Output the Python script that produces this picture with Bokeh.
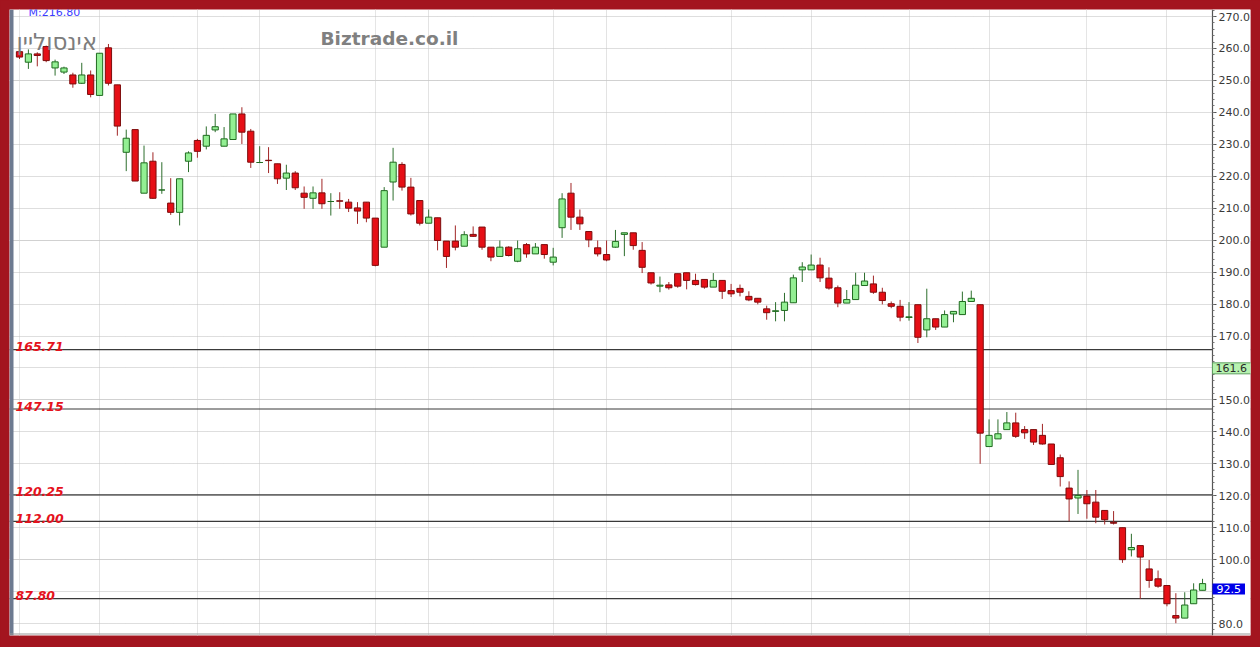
from bokeh.plotting import figure
from bokeh.models import (ColumnDataSource, LinearAxis, FixedTicker, PrintfTickFormatter,
                          Span, Label, Grid, BoxAnnotation)
from bokeh.embed import file_html
from bokeh.resources import INLINE

# ---------------- data ----------------
opens = [259.0, 255.7, 258.3, 260.6, 253.9, 252.6, 251.7, 249.1, 251.7, 245.3,
         260.2, 248.6, 227.5, 234.6, 214.7, 224.7, 215.7, 211.6, 208.7, 224.7,
         231.2, 229.4, 234.5, 229.4, 231.5, 239.5, 234.1, 224.3, 225.0, 223.9,
         219.4, 221.0, 214.7, 213.1, 214.8, 212.1, 212.3, 211.9, 210.1, 211.9,
         206.9, 197.8, 218.2, 223.7, 216.6, 212.4, 205.3, 207.0, 199.7, 199.7,
         198.1, 201.8, 204.1, 197.8, 194.9, 197.8, 193.4, 198.6, 195.7, 198.6,
         193.1, 203.9, 214.7, 207.2, 202.7, 197.6, 195.5, 197.8, 201.8, 202.3,
         196.8, 189.8, 185.6, 186.0, 189.5, 189.8, 187.4, 187.7, 185.3, 187.4,
         184.2, 184.9, 182.4, 181.8, 178.5, 177.7, 178.0, 180.4, 190.7, 190.7,
         192.2, 188.1, 185.1, 180.3, 181.4, 185.8, 186.3, 183.7, 180.1, 179.3,
         175.8, 179.8, 171.9, 175.4, 172.8, 176.9, 176.7, 180.8, 179.8, 135.4,
         137.8, 140.7, 142.8, 140.7, 140.7, 138.9, 136.2, 131.9, 122.4, 119.3,
         119.9, 118.0, 115.4, 111.7, 110.0, 103.1, 104.4, 97.1, 94.0, 91.9,
         82.5, 81.7, 86.2, 90.4]
highs = [260.4, 259.7, 258.8, 260.9, 256.5, 254.3, 252.4, 255.5, 253.1, 258.5,
         261.4, 248.6, 234.6, 234.6, 229.6, 227.5, 224.4, 219.4, 219.2, 227.8,
         231.7, 235.6, 239.5, 235.4, 239.5, 241.6, 234.8, 229.4, 229.1, 223.9,
         223.6, 221.6, 216.8, 216.8, 219.2, 214.7, 215.0, 212.9, 211.9, 211.9,
         206.9, 216.6, 228.9, 224.4, 219.5, 212.4, 209.6, 207.0, 199.7, 204.6,
         202.8, 204.3, 204.1, 197.8, 199.9, 198.1, 199.9, 199.1, 199.1, 198.6,
         197.6, 214.7, 217.9, 209.6, 202.7, 199.9, 199.9, 203.2, 202.3, 202.3,
         199.4, 189.8, 188.6, 186.9, 189.5, 189.8, 189.5, 187.7, 189.7, 187.4,
         186.3, 186.1, 184.0, 181.8, 179.5, 180.6, 183.5, 189.2, 193.1, 195.5,
         194.5, 191.5, 185.8, 184.4, 189.8, 189.8, 188.9, 185.1, 180.8, 181.3,
         180.6, 179.8, 184.8, 175.4, 178.0, 177.7, 183.9, 184.2, 179.8, 143.9,
         143.9, 146.2, 146.0, 141.8, 140.7, 142.5, 136.2, 132.9, 124.5, 128.1,
         121.8, 121.8, 115.4, 115.2, 110.0, 108.1, 104.4, 99.9, 96.6, 91.9,
         89.5, 89.8, 92.6, 94.0]
lows = [256.7, 253.6, 254.4, 255.7, 251.5, 252.0, 247.7, 248.9, 244.7, 245.3,
        248.4, 232.7, 221.6, 218.5, 214.7, 212.9, 214.5, 207.9, 204.6, 221.3,
        225.8, 228.4, 233.8, 229.4, 231.5, 230.1, 222.6, 224.1, 221.0, 217.6,
        215.7, 215.7, 209.8, 209.8, 209.8, 207.7, 209.8, 208.8, 205.1, 205.6,
        191.8, 197.8, 212.4, 215.5, 207.7, 204.6, 205.3, 196.8, 191.3, 196.8,
        198.1, 201.0, 197.0, 193.4, 194.9, 194.9, 193.1, 194.5, 195.7, 194.2,
        192.1, 200.7, 203.2, 203.2, 197.8, 194.9, 193.4, 197.6, 195.0, 197.0,
        189.7, 186.1, 183.7, 184.5, 185.1, 184.6, 185.8, 184.8, 185.3, 181.6,
        182.2, 182.4, 180.9, 179.9, 175.1, 174.6, 174.6, 180.4, 186.9, 190.7,
        186.9, 184.5, 179.0, 180.3, 181.4, 185.8, 183.2, 179.9, 178.7, 174.6,
        174.8, 167.8, 169.6, 171.9, 172.8, 174.3, 176.7, 180.8, 130.0, 135.4,
        137.8, 140.7, 138.1, 137.8, 135.9, 136.0, 129.8, 122.9, 112.0, 114.3,
        112.8, 111.4, 111.0, 111.0, 99.0, 101.0, 87.7, 91.2, 91.2, 85.4,
        80.1, 81.7, 86.2, 90.4]
closes = [257.3, 258.3, 257.8, 256.2, 255.8, 253.9, 248.9, 251.7, 245.6, 258.5,
          249.1, 235.7, 231.9, 218.5, 224.2, 213.1, 215.7, 208.7, 219.2, 227.3,
          227.8, 232.8, 235.5, 231.7, 239.5, 233.8, 224.4, 224.3, 224.9, 219.2,
          221.0, 216.4, 213.4, 214.8, 211.4, 212.1, 212.2, 210.0, 209.1, 206.9,
          192.1, 215.5, 224.4, 216.6, 208.2, 205.3, 207.2, 199.9, 194.9, 197.8,
          201.7, 201.2, 197.8, 194.7, 197.8, 195.2, 197.3, 195.7, 197.8, 195.5,
          194.7, 212.9, 207.2, 205.1, 200.1, 195.7, 193.8, 199.6, 202.3, 198.3,
          191.5, 186.6, 185.9, 185.1, 185.6, 187.4, 186.1, 185.3, 187.4, 184.0,
          183.2, 183.7, 181.3, 180.6, 177.3, 177.9, 180.6, 188.2, 191.6, 192.2,
          188.2, 185.0, 180.3, 181.4, 185.9, 187.2, 183.7, 181.1, 179.3, 175.9,
          176.0, 169.6, 175.4, 172.8, 176.7, 177.7, 180.8, 181.8, 139.6, 138.9,
          139.4, 142.8, 138.6, 139.7, 136.8, 136.2, 129.8, 126.0, 119.0, 120.1,
          117.5, 113.3, 112.5, 111.4, 100.0, 103.8, 100.8, 93.5, 91.7, 86.2,
          81.7, 85.8, 90.5, 92.5]

month_starts = [9, 27, 46, 66, 89, 109, 129]
levels = [165.71, 147.15, 120.25, 112.00, 87.80]
level_labels = ["165.71", "147.15", "120.25", "112.00", "87.80"]
y_ticks = list(range(80, 271, 10))
y_minor = list(range(76, 274, 2))
hidden_tick_labels = {90: ""}   # covered by the last-price tag in the original
last_price = 92.5
last_price_text = "92.5"
avg_value = 161.6
avg_text = "161.6"
header_text = "M:216.80"
title_text = "אינסוליין"
site_text = "Biztrade.co.il"

# ---------------- layout helpers (page pixels -> data) ----------------
FRAME_L, FRAME_T, FRAME_R, FRAME_B = 9, 9, 1250, 635
AXIS_PX = 1212
STEP = 8.895      # px per bar
X0_PX = 19        # page x of first bar
PPU = 3.195       # px per price unit
Y_REF_PX, Y_REF_V = 16, 270
FRAME_RED = "#a3151f"


def px2x(px):
    return (px - X0_PX) / STEP


def px2y(py):
    return Y_REF_V - (py - Y_REF_PX) / PPU


x_start, x_end = px2x(FRAME_L), px2x(FRAME_R)
y_top, y_bot = px2y(FRAME_T), px2y(FRAME_B)
x_axis = px2x(AXIS_PX)

idx = list(range(len(opens)))
up = [c >= o for o, c in zip(opens, closes)]
src = ColumnDataSource(dict(
    x=idx, high=highs, low=lows,
    top=[max(o, c) for o, c in zip(opens, closes)],
    bottom=[min(o, c) for o, c in zip(opens, closes)],
    fill=["#93ef93" if u else "#e60f16" for u in up],
    edge=["#1f6b1f" if u else "#7d0c0c" for u in up],
    wick=["#2d6e2d" if u else "#a12626" for u in up],
))

p = figure(frame_width=FRAME_R - FRAME_L, frame_height=FRAME_B - FRAME_T,
           x_range=(x_start, x_end), y_range=(y_bot, y_top),
           output_backend="svg", toolbar_location=None,
           x_axis_location=None, y_axis_location=None,
           min_border_left=FRAME_L, min_border_top=FRAME_T,
           min_border_bottom=647 - FRAME_B, min_border_right=10,
           background_fill_color="white", border_fill_color=FRAME_RED,
           outline_line_color=None)

# grids
p.add_layout(Grid(dimension=1, ticker=FixedTicker(ticks=y_ticks),
                  grid_line_color="#bcbcbc", grid_line_dash="1 1", grid_line_width=1))
p.add_layout(Grid(dimension=0, ticker=FixedTicker(ticks=month_starts),
                  grid_line_color="#c6c6c6", grid_line_dash="1 1", grid_line_width=1))

# support / resistance lines
for lv in levels:
    p.add_layout(Span(location=lv, dimension="width", line_color="#3a3a3a",
                      line_width=1.2, level="underlay"))

# white axis strip, left bar and bottom line
p.add_layout(BoxAnnotation(left=x_axis, fill_color="white", fill_alpha=1,
                           line_color=None, level="underlay"))
p.add_layout(BoxAnnotation(right=px2x(13), fill_color="#6d7a90", fill_alpha=1,
                           line_color=None, level="underlay"))
p.add_layout(Span(location=px2y(633.5), dimension="width", line_color="#9a9a9a",
                  line_width=1.2, level="underlay"))

for lv, txt in zip(levels, level_labels):
    p.add_layout(Label(x=px2x(15), y=lv + 3 / PPU, text=txt, text_baseline="alphabetic",
                       text_align="left", text_color="#e5121c", text_font="DejaVu Sans",
                       text_font_style="bold italic", text_font_size="12.5px"))

# candles
p.segment(x0="x", y0="low", x1="x", y1="high", line_color="wick", line_width=1, source=src)
p.vbar(x="x", width=0.7, top="top", bottom="bottom", fill_color="fill",
       line_color="edge", line_width=1, source=src)

# price axis, drawn at the right edge of the chart area
ax = LinearAxis(ticker=FixedTicker(ticks=y_ticks, minor_ticks=y_minor),
                formatter=PrintfTickFormatter(format="%.1f"), fixed_location=x_axis,
                major_label_overrides=hidden_tick_labels,
                axis_line_color="#555555", axis_line_width=1.2,
                major_tick_line_color="#555555", major_tick_out=4, major_tick_in=0,
                minor_tick_line_color="#777777", minor_tick_out=2, minor_tick_in=0,
                major_label_text_color="#3a3a3a", major_label_text_font="DejaVu Sans",
                major_label_text_font_size="11px", major_label_standoff=2)
p.add_layout(ax, "right")

# price tags on the axis
p.add_layout(Label(x=x_axis, y=avg_value, text=avg_text, text_baseline="top", text_align="left",
                   text_color="#2a2a2a", text_font="DejaVu Sans", text_font_size="11px",
                   background_fill_color="#b7f2b0", background_fill_alpha=1,
                   border_line_color="#5f9f5f",
                   padding=dict(left=3, right=6, top=1, bottom=2)))
p.add_layout(Label(x=x_axis, y=last_price, text=last_price_text, text_baseline="top",
                   text_align="left", text_color="white", text_font="DejaVu Sans",
                   text_font_size="11px", background_fill_color="#0000e8",
                   background_fill_alpha=1,
                   padding=dict(left=4, right=4, top=1, bottom=2)))

# header texts
p.add_layout(Label(x=px2x(28), y=px2y(12), text=header_text, text_baseline="alphabetic",
                   text_align="left", text_color="#3b3bff", text_font="DejaVu Sans",
                   text_font_size="11px"))
p.add_layout(Label(x=px2x(16), y=px2y(28), text=title_text, text_baseline="top",
                   text_align="left", text_color="#7d7d7d", text_font="DejaVu Sans",
                   text_font_size="23px"))
p.add_layout(Label(x=px2x(320), y=px2y(27), text=site_text, text_baseline="top",
                   text_align="left", text_color="#808080", text_font="DejaVu Sans",
                   text_font_style="bold", text_font_size="18.5px"))

html = file_html(p, INLINE)
css = ("<style>html, body { margin: 0 !important; padding: 0 !important; "
       "overflow: hidden !important; background-color: " + FRAME_RED + " !important; }</style>")
html = html.replace("</head>", css + "\n</head>", 1)
open("out.html", "w").write(html)
